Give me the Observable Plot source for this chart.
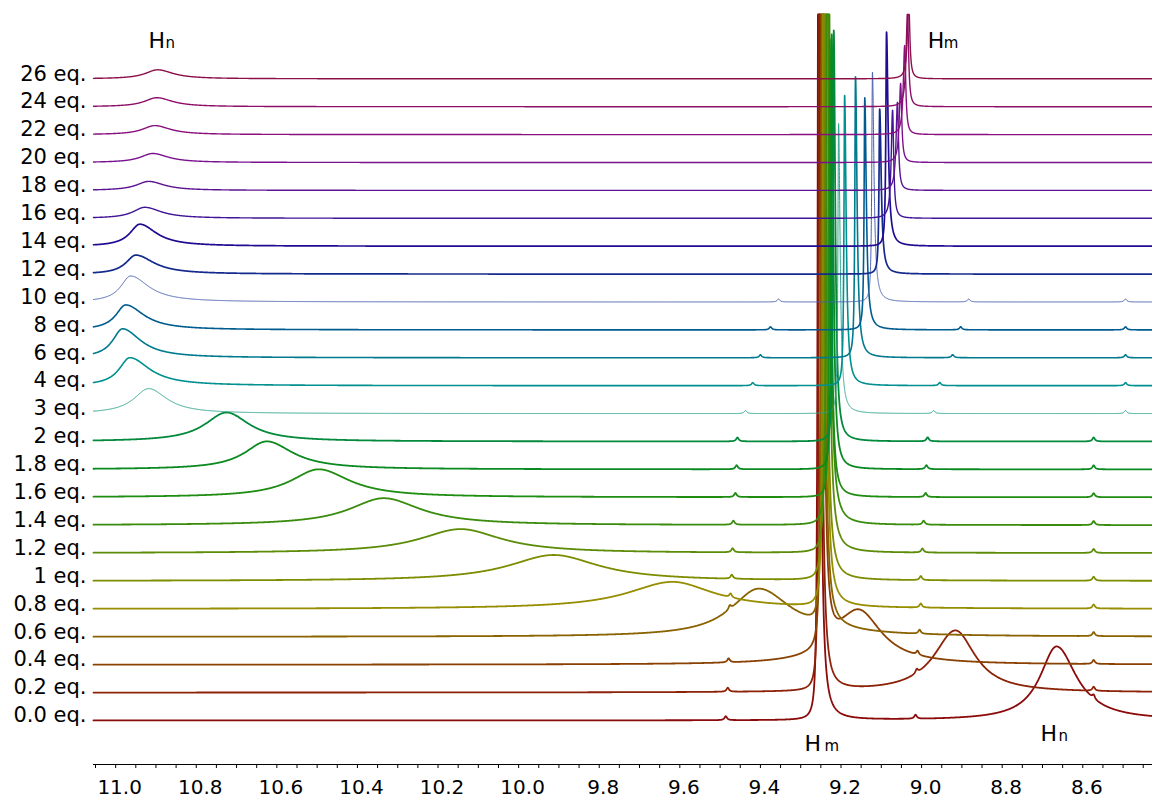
<!DOCTYPE html>
<html><head><meta charset="utf-8">
<script src="https://cdn.jsdelivr.net/npm/d3@7"></script>
<script src="https://cdn.jsdelivr.net/npm/@observablehq/plot@0.6"></script>
<style>html,body{margin:0;padding:0;background:#fff} svg{display:block}</style>
</head><body><div id="chart"></div>
<script>
// ---- data (ppm / relative intensity) ----
const eqLabels = ["0.0 eq.","0.2 eq.","0.4 eq.","0.6 eq.","0.8 eq.","1 eq.","1.2 eq.","1.4 eq.","1.6 eq.","1.8 eq.","2 eq.","3 eq.","4 eq.","6 eq.","8 eq.","10 eq.","12 eq.","14 eq.","16 eq.","18 eq.","20 eq.","22 eq.","24 eq.","26 eq."];
// Hn (broad) peak
const hnPpm    = [8.665,8.916,9.156,9.404,9.618,9.913,10.144,10.335,10.496,10.625,10.725,10.918,10.965,10.983,10.975,10.963,10.950,10.940,10.928,10.918,10.908,10.903,10.898,10.896];
const hnHeight = [74,62,53,48,27,26,24,27,28,28,29,25,28,29,25,26,19,22,11,9,9,9,9,9];
const hnWidthL = [0.050,0.065,0.069,0.084,0.136,0.136,0.124,0.104,0.084,0.067,0.065,0.045,0.032,0.030,0.030,0.030,0.030,0.030,0.035,0.037,0.037,0.037,0.037,0.037];
const hnWidthR = [0.060,0.060,0.069,0.099,0.124,0.136,0.124,0.112,0.094,0.079,0.069,0.055,0.060,0.055,0.055,0.055,0.055,0.050,0.050,0.047,0.047,0.047,0.047,0.047];
// Hm (sharp) peak
const hmPpm    = [9.256,9.253,9.248,9.246,9.243,9.241,9.236,9.233,9.228,9.223,9.218,9.206,9.191,9.164,9.141,9.122,9.104,9.087,9.072,9.060,9.052,9.042,9.035,9.032];
const hmHeight = [1000,1000,1000,1000,1000,1000,1000,1000,458,435,411,290,290,281,232,230,165,214,108,88,79,89,95,80];
const hmWidthL = [0.002,0.002,0.002,0.002,0.002,0.002,0.002,0.002,0.002,0.002,0.002,0.002,0.002,0.002,0.002,0.002,0.002,0.002,0.004,0.004,0.004,0.004,0.004,0.004];
const hmWidthR = [0.0045,0.0045,0.0045,0.0045,0.0045,0.0045,0.0045,0.0045,0.0045,0.0045,0.0045,0.0045,0.0045,0.0045,0.0045,0.0045,0.0045,0.0045,0.0032,0.0032,0.0032,0.0032,0.0032,0.0032];
// small impurity signals
const minorPpmA = [9.486,9.481,9.479,9.476,9.474,9.471,9.469,9.467,9.462,9.459,9.457,9.437,9.419,9.400,9.375,9.355,9.355,9.355,9.355,9.355,9.355,9.355,9.355,9.355];
const minorPpmB = [9.015,9.012,9.010,9.005,9.002,9.002,8.998,8.995,8.990,8.988,8.985,8.970,8.955,8.923,8.903,8.883,8.883,8.883,8.883,8.883,8.883,8.883,8.883,8.883];
const minorPpmC = [8.573,8.573,8.573,8.573,8.573,8.573,8.573,8.573,8.573,8.573,8.573,8.494,8.494,8.494,8.494,8.494,8.494,8.494,8.494,8.494,8.494,8.494,8.494,8.494];
const minorHeight = [4,4,4,4,4,4,4,4,4,4,4,3,3,3,3,3,0,0,0,0,0,0,0,0];
const minorWidth = 0.0037;
// axis ticks
const minorTicks = d3.range(0, 53).map(k => +(8.45 + k * 0.05).toFixed(2));
const majorTicks = [11.0,10.8,10.6,10.4,10.2,10.0,9.8,9.6,9.4,9.2,9.0,8.8,8.6];

// ---- styles ----
const colors = ["#8b0a0a","#8c2208","#8a4204","#8a6200","#968e00","#7e8c00","#5c8c08","#3a8c0e","#1f8c12","#0c8a22","#048a3c","#2ea48e","#009090","#007a8e","#005c90","#4a60b0","#142a8c","#200c92","#401496","#5c1492","#7a128e","#8a1080","#8c1068","#8c104a"];
const strokeWidths = [1.8,1.8,1.8,1.8,1.8,1.8,1.8,1.8,1.8,1.8,1.8,1.0,1.6,1.6,1.6,1.0,1.7,1.7,1.4,1.4,1.4,1.4,1.4,1.4];

// ---- layout constants ----
const gap = 27.9;          // vertical stacking offset between spectra
const yLow = -44, yHigh = 706;
const xLeft = 11.055, xRight = 8.427;

function lor(x, c, h, wl, wr) {
  const d = x - c;
  const w = d > 0 ? wl : wr;
  return h * w * w / (d * d + w * w);
}

const traces = eqLabels.map((label, i) => {
  const xs = new Set();
  const n = Math.round((xLeft - xRight) / 0.001);
  for (let k = 0; k <= n; k++) xs.add(+(xLeft - k * 0.001).toFixed(4));
  for (let k = -250; k <= 250; k++) xs.add(+(hmPpm[i] + k * 0.0001).toFixed(5));
  return Array.from(xs).filter(x => x <= xLeft && x >= xRight).sort((a, b) => b - a).map(x => {
    let v = lor(x, hnPpm[i], hnHeight[i], hnWidthL[i], hnWidthR[i])
          + lor(x, hmPpm[i], hmHeight[i], hmWidthL[i], hmWidthR[i]);
    if (minorHeight[i]) {
      for (const c of [minorPpmA[i], minorPpmB[i], minorPpmC[i]]) v += lor(x, c, minorHeight[i], minorWidth, minorWidth);
    }
    return {ppm: x, y: Math.min(i * gap + v, yHigh)};
  });
});

const marks = [];
traces.forEach((pts, i) => {
  marks.push(Plot.line(pts, {x: "ppm", y: "y", stroke: colors[i], strokeWidth: strokeWidths[i], strokeLinejoin: "round"}));
});
marks.push(Plot.ruleY([yLow], {stroke: "#000", strokeWidth: 1}));
marks.push(Plot.axisX(minorTicks, {tickSize: 4, tickFormat: () => "", label: null, stroke: "#000"}));
marks.push(Plot.axisX(majorTicks, {tickSize: 0, tickPadding: 15, tickFormat: d => d.toFixed(1), fontSize: 20, dx: 4, label: null, fill: "#000"}));
marks.push(Plot.text(eqLabels, {y: (d, i) => i * gap, text: d => d, frameAnchor: "left", textAnchor: "end", lineAnchor: "middle", dx: -7, dy: -5, fontSize: 21, fill: "#000"}));

function label(x, y, main, sub, dxMain, dxSub) {
  marks.push(Plot.text([main], {x: () => x, y: () => y, text: d => d, textAnchor: "start", lineAnchor: "middle", dx: dxMain, fontSize: 22, fill: "#000"}));
  marks.push(Plot.text([sub], {x: () => x, y: () => y, text: d => d, textAnchor: "start", lineAnchor: "middle", dx: dxSub, dy: 3, fontSize: 15, fill: "#000"}));
}
const last = eqLabels.length - 1;
label(hnPpm[last], yHigh - 26, "H", "n", -9, 8);
label(hmPpm[last], yHigh - 26, "H", "m", 19, 35);
label(hmPpm[0], -23, "H", "m", -14, 6);
label(hnPpm[0], -13, "H", "n", -16, 2);

const chart = Plot.plot({
  width: 1152, height: 799,
  marginLeft: 93, marginRight: 0, marginTop: 14, marginBottom: 35,
  x: {domain: [xLeft, xRight], axis: null},
  y: {domain: [yLow, yHigh], axis: null},
  style: {fontFamily: "DejaVu Sans, Verdana, sans-serif", color: "#000", background: "#fff", overflow: "visible"},
  marks
});
document.getElementById("chart").appendChild(chart);
</script>
</body></html>
